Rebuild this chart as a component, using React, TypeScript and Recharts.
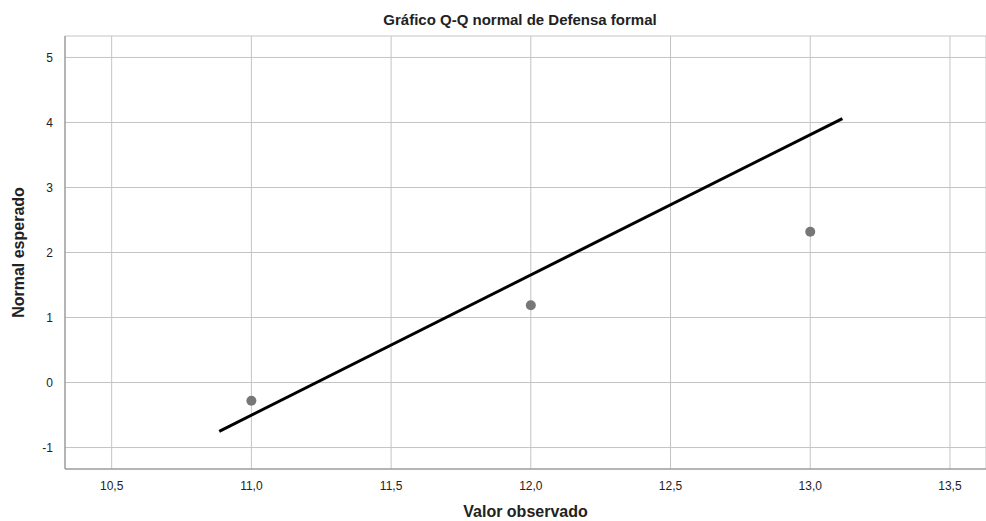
import { ScatterChart, Scatter, XAxis, YAxis, CartesianGrid, Label } from 'recharts';

const observed = [11.0, 12.0, 13.0];
const expectedNormal = [-0.28, 1.19, 2.32];
const fitX = [10.885, 13.115];
const fitY = [-0.75, 4.06];
const xTicks = [10.5, 11.0, 11.5, 12.0, 12.5, 13.0, 13.5];
const yTicks = [-1, 0, 1, 2, 3, 4, 5];

const points = observed.map((x, i) => ({ x, y: expectedNormal[i] }));
const fitLine = fitX.map((x, i) => ({ x, y: fitY[i] }));

const font = '"Liberation Sans", Arial, sans-serif';
const fmt = (v: number) => v.toFixed(1).replace('.', ',');

export default function App() {
    return (
        <div style={{ position: 'absolute', left: 0, top: 0, width: 986, height: 521, background: '#fff', fontFamily: font }}>
            <div style={{ position: 'absolute', top: 11, left: 0, width: 1040, textAlign: 'center', fontSize: 15, fontWeight: 'bold', color: '#222' }}>
                Gráfico Q-Q normal de Defensa formal
            </div>
            <ScatterChart width={986} height={521} margin={{ top: 36, right: 0, bottom: 0, left: 0 }}>
                <CartesianGrid stroke="#c4c4c4" strokeWidth={1} />
                <XAxis
                    type="number"
                    dataKey="x"
                    domain={[10.333, 13.629]}
                    ticks={xTicks}
                    tickFormatter={fmt}
                    allowDataOverflow
                    height={52}
                    tickLine={false}
                    stroke="#888"
                    tick={{ fill: '#222', fontSize: 12, fontFamily: font }}
                    tickMargin={6}
                >
                    <Label value="Valor observado" position="insideBottom" offset={4} style={{ fontSize: 16, fontWeight: 'bold', fill: '#222', fontFamily: font }} />
                </XAxis>
                <YAxis
                    type="number"
                    dataKey="y"
                    domain={[-1.33, 5.33]}
                    ticks={yTicks}
                    allowDataOverflow
                    width={65}
                    tickLine={false}
                    stroke="#888"
                    tick={{ fill: '#222', fontSize: 12, fontFamily: font }}
                    tickMargin={6}
                >
                    <Label value="Normal esperado" angle={-90} position="insideLeft" offset={18} style={{ textAnchor: 'middle', fontSize: 16, fontWeight: 'bold', fill: '#222', fontFamily: font }} />
                </YAxis>
                <Scatter data={points} fill="#777" isAnimationActive={false} shape={(p: any) => <circle cx={p.cx} cy={p.cy} r={5} fill="#777" />} />
                <Scatter data={fitLine} line={{ stroke: '#000', strokeWidth: 3 }} isAnimationActive={false} shape={() => <g />} />
            </ScatterChart>
        </div>
    );
}
